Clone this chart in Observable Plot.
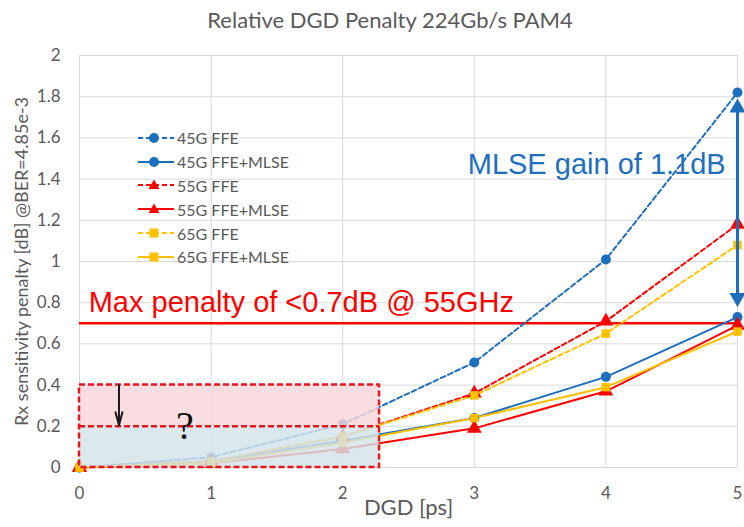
<!DOCTYPE html>
<html><head><meta charset="utf-8">
<script src="https://cdn.jsdelivr.net/npm/d3@7"></script>
<script src="https://cdn.jsdelivr.net/npm/@observablehq/plot@0.6"></script>
<style>
body{margin:0;background:#fff;}
#wrap{position:relative;width:744px;height:527px;font-family:Lato,sans-serif;overflow:hidden;}
#title{height:40px;line-height:40px;text-align:center;padding-left:36px;box-sizing:border-box;color:#595959;font-size:22px;}
#legend{position:absolute;left:138px;top:126px;}
.row{display:flex;align-items:center;height:23.8px;color:#595959;font-size:16px;white-space:nowrap;}
.row svg{margin-right:2px;}
</style></head><body>
<div id="wrap"><div id="title">Relative DGD Penalty 224Gb/s PAM4</div><div id="chart"></div><div id="legend"></div></div>
<script>
// ---- data ----
const dgd = [0, 1, 2, 3, 4, 5];
const g45FFE  = [0, 0.05, 0.21, 0.51, 1.01, 1.82];
const g45MLSE = [0, 0.03, 0.13, 0.24, 0.44, 0.73];
const g55FFE  = [0, 0.03, 0.15, 0.36, 0.71, 1.18];
const g55MLSE = [0, 0.02, 0.09, 0.19, 0.37, 0.69];
const g65FFE  = [0, 0.03, 0.15, 0.35, 0.65, 1.08];
const g65MLSE = [0, 0.02, 0.12, 0.24, 0.39, 0.66];
const seriesNames = ["45G FFE", "45G FFE+MLSE", "55G FFE", "55G FFE+MLSE", "65G FFE", "65G FFE+MLSE"];
const seriesValues = [g45FFE, g45MLSE, g55FFE, g55MLSE, g65FFE, g65MLSE];
const xTicks = [0, 1, 2, 3, 4, 5];
const yTicks = [0, 0.2, 0.4, 0.6, 0.8, 1, 1.2, 1.4, 1.6, 1.8, 2];
const maxPenalty = 0.7;
const bandTop = [0.2, 0.4];
const bandBottom = [0, 0.2];
const bandX = [0, 2.28];
const gainArrow = {x: 5, y1: 0.8, y2: 1.77};
const downArrow = {x: 0.3, y1: 0.4, y2: 0.205};
const labels = {
  maxText: "Max penalty of <0.7dB @ 55GHz", maxX: 0.07, maxY: 0.8,
  gainText: "MLSE gain of 1.1dB", gainX: 2.95, gainY: 1.47,
  qText: "?", qX: 0.8, qY: 0.2,
  yLabel: "Rx sensitivity penalty [dB] @BER=4.85e-3",
  xLabel: "DGD [ps]"
};

// ---- styles ----
const BLUE = "#1E6EBE", RED = "#FF0000", YEL = "#FFC000";
const styles = [
  {color: BLUE, dash: "5,3", symbol: "circle", r: 5},
  {color: BLUE, dash: null, symbol: "circle", r: 5},
  {color: RED, dash: "5,3", symbol: "triangle", r: 5.5},
  {color: RED, dash: null, symbol: "triangle", r: 5.5},
  {color: YEL, dash: "5,3", symbol: "square", r: 4.8},
  {color: YEL, dash: null, symbol: "square", r: 4.8}
];

const seriesRows = seriesNames.map((name, i) => dgd.map((x, j) => ({series: name, x, y: seriesValues[i][j]})));

const dataMarks = [];
seriesRows.forEach((rows, i) => {
  const s = styles[i];
  dataMarks.push(Plot.line(rows, {x: "x", y: "y", stroke: s.color, strokeWidth: 2, strokeDasharray: s.dash || undefined}));
});
seriesRows.forEach((rows, i) => {
  const s = styles[i];
  dataMarks.push(Plot.dot(rows, {x: "x", y: "y", symbol: s.symbol, fill: s.color, r: s.r, stroke: "none"}));
});

const chart = Plot.plot({
  width: 744, height: 487,
  marginLeft: 79, marginRight: 7, marginTop: 15, marginBottom: 60,
  x: {domain: [0, 5], label: null},
  y: {domain: [0, 2], label: null},
  style: {fontFamily: "Lato, sans-serif", fontSize: "17px", color: "#595959", background: "white", overflow: "visible"},
  marks: [
    Plot.gridX(xTicks, {stroke: "#d9d9d9", strokeOpacity: 1, strokeWidth: 1}),
    Plot.gridY(yTicks, {stroke: "#d9d9d9", strokeOpacity: 1, strokeWidth: 1}),
    Plot.axisX(xTicks, {tickSize: 0, tickPadding: 19, tickFormat: d => String(d), label: null, fill: "#595959"}),
    Plot.axisY(yTicks, {tickSize: 0, tickPadding: 19, tickFormat: d => String(+d.toFixed(1)), label: null, fill: "#595959"}),
    Plot.ruleY([maxPenalty], {stroke: RED, strokeWidth: 2.5}),
    ...dataMarks,
    Plot.rect([{x1: bandX[0], x2: bandX[1], y1: bandTop[0], y2: bandTop[1]}], {x1: "x1", x2: "x2", y1: "y1", y2: "y2", fill: "#F9D5DB", fillOpacity: 0.82}),
    Plot.rect([{x1: bandX[0], x2: bandX[1], y1: bandBottom[0], y2: bandBottom[1]}], {x1: "x1", x2: "x2", y1: "y1", y2: "y2", fill: "#D3E3EA", fillOpacity: 0.82}),
    Plot.rect([{x1: bandX[0], x2: bandX[1], y1: bandBottom[0], y2: bandTop[1]}], {x1: "x1", x2: "x2", y1: "y1", y2: "y2", fill: "none", stroke: "#E8141C", strokeWidth: 2.5, strokeDasharray: "6,3"}),
    Plot.ruleY([bandTop[0]], {x1: bandX[0], x2: bandX[1], stroke: "#E8141C", strokeWidth: 2.5, strokeDasharray: "6,3"}),
    Plot.arrow([downArrow], {x1: "x", x2: "x", y1: "y1", y2: "y2", stroke: "#1a1a1a", strokeWidth: 2, headLength: 12, headAngle: 30}),
    Plot.ruleX([gainArrow], {x: "x", y1: "y1", y2: "y2", stroke: BLUE, strokeWidth: 3}),
    Plot.dot([gainArrow], {x: "x", y: "y2", symbol: "triangle", r: 6, fill: BLUE, dy: 5}),
    Plot.dot([gainArrow], {x: "x", y: "y1", symbol: "triangle", r: 6, fill: BLUE, rotate: 180, dy: -5}),
    Plot.text([labels], {x: "maxX", y: "maxY", text: "maxText", textAnchor: "start", fill: RED, fontSize: 29, fontFamily: "Liberation Sans, Arial, sans-serif"}),
    Plot.text([labels], {x: "gainX", y: "gainY", text: "gainText", textAnchor: "start", fill: BLUE, fontSize: 29, fontFamily: "Liberation Sans, Arial, sans-serif"}),
    Plot.text([labels], {x: "qX", y: "qY", text: "qText", fill: "#111", fontSize: 40, fontFamily: "Liberation Serif, serif"}),
    Plot.text([labels], {text: "yLabel", frameAnchor: "left", textAnchor: "middle", rotate: -90, dx: -57, fill: "#595959", fontSize: 18}),
    Plot.text([labels], {text: "xLabel", frameAnchor: "bottom", textAnchor: "middle", dy: 47, fill: "#595959", fontSize: 22})
  ]
});
document.getElementById("chart").appendChild(chart);

// ---- legend ----
const legend = document.getElementById("legend");
seriesNames.forEach((name, i) => {
  const s = styles[i];
  const row = document.createElement("div");
  row.className = "row";
  let marker;
  if (s.symbol === "circle") marker = `<circle cx="16" cy="10" r="5" fill="${s.color}"/>`;
  else if (s.symbol === "triangle") marker = `<path d="M16,4.5 L21.5,14 L10.5,14 Z" fill="${s.color}"/>`;
  else marker = `<rect x="11.5" y="5.5" width="9" height="9" fill="${s.color}"/>`;
  row.innerHTML = `<svg width="37" height="20"><line x1="0" x2="36" y1="10" y2="10" stroke="${s.color}" stroke-width="2" ${s.dash ? `stroke-dasharray="${s.dash}"` : ""}/>${marker}</svg><span>${name}</span>`;
  legend.appendChild(row);
});
</script>
</body></html>
